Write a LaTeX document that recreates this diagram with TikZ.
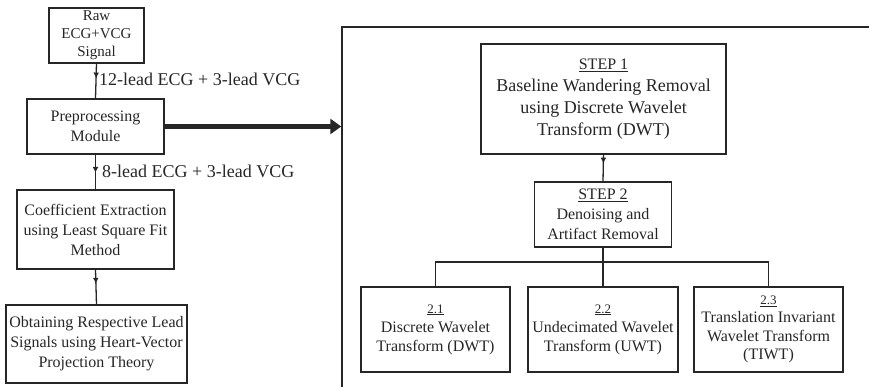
\documentclass[tikz,border=0pt]{standalone}
\usepackage{fontspec}
\setmainfont{Liberation Serif}
\usetikzlibrary{arrows.meta,decorations.markings}
\definecolor{ink}{HTML}{262626}
\begin{document}
\begin{tikzpicture}[x=1pt,y=-1pt,
  box/.style={draw=ink, line width=1.4pt, align=center, inner sep=0pt, text=ink, font=\fontsize{16}{20}\selectfont},
  lab/.style={text=ink, inner sep=0pt, anchor=west, font=\fontsize{18}{20}\selectfont},
  link/.style={draw=ink, line width=1.3pt, postaction={decorate},
    decoration={markings, mark=at position #1 with {\arrow{Triangle[width=5pt,length=5pt]}}}},
  tree/.style={draw=ink, line width=1.3pt}]
\useasboundingbox (0,0) rectangle (869,387);
\clip (0,0) rectangle (869,387);
% left column
\node[box, minimum width=95, minimum height=55, font=\fontsize{15}{18}\selectfont] (raw) at (96.5,35.5) {Raw\\ECG+VCG\\Signal};
\node[box, minimum width=137, minimum height=55] (pre) at (95.5,126.5) {Preprocessing\\Module};
\node[box, minimum width=157, minimum height=79] (coef) at (95.5,229.5) {Coefficient Extraction\\using Least Square Fit\\Method};
\node[box, minimum width=181, minimum height=78] (obt) at (96.5,344) {Obtaining Respective Lead\\Signals using Heart-Vector\\Projection Theory};
\draw[link=0.4] (raw.south) -- (pre.north);
\draw[link=0.5] (pre.south) -- (coef.north);
\draw[link=0.38] (coef.south) -- (obt.north);
\node[lab] (l1) at (99,79) {12-lead ECG + 3-lead VCG};
\node[lab] (l2) at (102,171) {8-lead ECG + 3-lead VCG};
% big frame
\node[draw=ink, line width=1.5pt, minimum width=558, minimum height=393, inner sep=0pt] (big) at (621,223.5) {};
\draw[draw=ink, line width=4.5pt, -{Triangle[length=11pt,width=15pt]}] (pre.east) -- (pre.east -| big.west);
% right side
\node[box, minimum width=245, minimum height=110, font=\fontsize{18}{22}\selectfont] (s1) at (603.5,99)
  {{\fontsize{16}{22}\selectfont\underline{STEP 1}}\\Baseline Wandering Removal\\using Discrete Wavelet\\Transform (DWT)};
\node[box, minimum width=137, minimum height=65] (s2) at (603,214.5)
  {\underline{STEP 2}\\Denoising and\\Artifact Removal};
\draw[link=0.3] (s1.south) -- (s2.north);
\node[box, minimum width=149, minimum height=85, font=\fontsize{16}{19}\selectfont] (b21) at (435.5,329.5)
  {{\fontsize{13}{16}\selectfont\underline{2.1}}\\Discrete Wavelet\\Transform (DWT)};
\node[box, minimum width=150, minimum height=85, font=\fontsize{16}{19}\selectfont] (b22) at (603,329.5)
  {{\fontsize{13}{16}\selectfont\underline{2.2}}\\Undecimated Wavelet\\Transform (UWT)};
\node[box, minimum width=149, minimum height=85, font=\fontsize{16}{18.5}\selectfont] (b23) at (768.5,329.5)
  {{\fontsize{13}{16}\selectfont\underline{2.3}}\\Translation Invariant\\Wavelet Transform\\(TIWT)};
\coordinate (j) at (603,262);
\draw[tree] (s2.south) -- (b22.north);
\draw[tree] (b21.north) |- (j) -| (b23.north);
\end{tikzpicture}
\end{document}
